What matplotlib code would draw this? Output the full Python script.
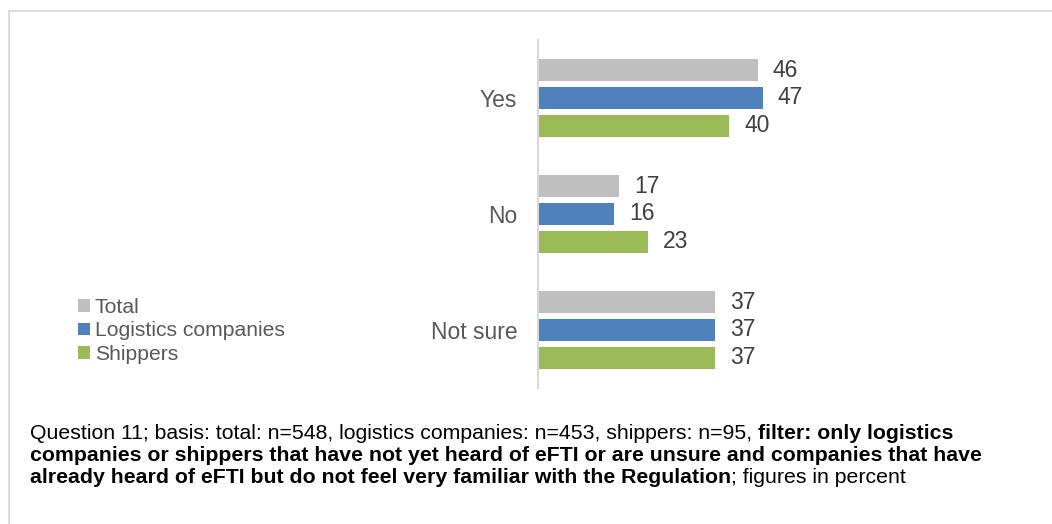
import numpy as np
import matplotlib.pyplot as plt
from matplotlib.lines import Line2D

plt.rcParams['font.family'] = ['Liberation Sans', 'DejaVu Sans']

# survey answers, shares in percent
answers = ['Yes', 'No', 'Not sure']
series = ['Total', 'Logistics companies', 'Shippers']
total = [46, 17, 37]
logistics = [47, 16, 37]
shippers = [40, 23, 37]
colors = ['#BFBFBF', '#4F81BD', '#9BBB59']

W, H = 1052, 524
fig = plt.figure(figsize=(W / 100, H / 100), dpi=100)
ax = fig.add_axes([538 / W, 1 - 388 / H, 478 / W, 348 / H])

y = np.arange(len(answers))
offsets = [-0.241, 0.0, 0.241]
handles = []
for vals, off, col, name in zip([total, logistics, shippers], offsets, colors, series):
    bars = ax.barh(y + off, vals, height=0.19, color=col, label=name)
    handles.append(bars)
    for b, v in zip(bars, vals):
        ax.annotate(str(v), xy=(b.get_width(), b.get_y() + b.get_height() / 2),
                    xytext=(15, 0), textcoords='offset pixels',
                    va='center', ha='left', fontsize=16.5, color='#404040')

ax.set_xlim(0, 100)
ax.set_ylim(2.5, -0.5)
ax.set_yticks(y)
ax.set_yticklabels(answers, fontsize=16.5, color='#595959')
ax.tick_params(axis='y', length=0, pad=15)
ax.set_xticks([])
for side in ['top', 'right', 'bottom']:
    ax.spines[side].set_visible(False)
ax.spines['left'].set_color('#D9D9D9')
ax.spines['left'].set_linewidth(1.5)

fig.legend(handles=handles, labels=series, loc='center left',
           bbox_to_anchor=(78 / W, 1 - 331 / H), frameon=False,
           fontsize=15.2, labelcolor='#595959', handlelength=0.55,
           handleheight=0.55, handletextpad=0.25, labelspacing=0.2,
           borderpad=0, borderaxespad=0)

# outer frame lines (left and top)
fig.add_artist(Line2D([8.5 / W, 8.5 / W], [0, 1 - 10.5 / H], color='#D9D9D9', lw=1.3))
fig.add_artist(Line2D([8.5 / W, 1], [1 - 10.5 / H, 1 - 10.5 / H], color='#D9D9D9', lw=1.3))

# footnote with mixed regular / bold runs
note_lines = [
    [("Question 11; basis: total: n=548, logistics companies: n=453, shippers: n=95, ", 'normal'),
     ("filter: only logistics", 'bold')],
    [("companies or shippers that have not yet heard of eFTI or are unsure and companies that have", 'bold')],
    [("already heard of eFTI but do not feel very familiar with the Regulation", 'bold'),
     ("; figures in percent", 'normal')],
]
baselines = [439, 461, 483]

fig.canvas.draw()
r = fig.canvas.get_renderer()
for parts, yb in zip(note_lines, baselines):
    x = 30
    for txt, wt in parts:
        t = fig.text(x / W, 1 - yb / H, txt, fontsize=15.3, fontweight=wt,
                     va='baseline', ha='left', color='black')
        x += t.get_window_extent(r).width

fig.savefig('out.png', dpi=100)
